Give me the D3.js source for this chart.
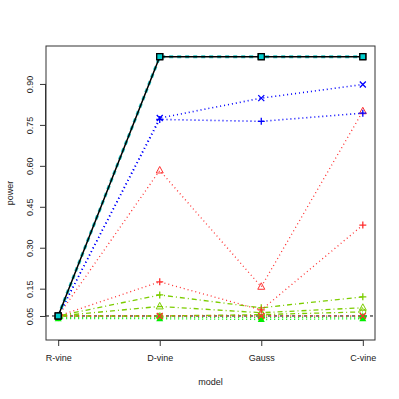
<!DOCTYPE html>
<html>
<head>
<meta charset="utf-8">
<script src="https://cdn.jsdelivr.net/npm/d3@7"></script>
<style>
  body { margin: 0; background: #fff; }
  text { font-family: "Liberation Sans", Arial, sans-serif; }
</style>
</head>
<body>
<div id="chart"></div>
<script>
const models = ["R-vine", "D-vine", "Gauss", "C-vine"];
const yTicks = [0.05, 0.15, 0.30, 0.45, 0.60, 0.75, 0.90];

// one entry per curve: values at each model
const blackSquare = [0.05, 1.0, 1.0, 1.0];
const cyanSquare = [0.05, 1.0, 1.0, 1.0];
const blueCross = [0.05, 0.775, 0.848, 0.898];
const bluePlus = [0.05, 0.77, 0.763, 0.793];
const redTriangle = [0.05, 0.583, 0.157, 0.80];
const redPlus = [0.05, 0.175, 0.072, 0.383];
const redFlat = [0.05, 0.05, 0.05, 0.05];
const olivePlus = [0.05, 0.127, 0.08, 0.12];
const oliveTriangle = [0.05, 0.085, 0.062, 0.08];
const oliveCircle = [0.05, 0.05, 0.055, 0.065];
const greenTop = [0.045, 0.046, 0.044, 0.046];
const greenLow = [0.04, 0.04, 0.037, 0.04];

const series = [
  { v: greenLow, color: "#00ee00", dash: "1,3", w: 1.3, shape: "tri" },
  { v: greenTop, color: "#00ee00", dash: "1,3", w: 1.3, shape: "diamond" },
  { v: oliveCircle, color: "#7ccd00", dash: "1,3,5,3", w: 1.3, shape: "circle" },
  { v: oliveTriangle, color: "#7ccd00", dash: "1,3,5,3", w: 1.3, shape: "triOpen" },
  { v: olivePlus, color: "#7ccd00", dash: "1,3,5,3", w: 1.3, shape: "plus" },
  { v: redFlat, color: "#ff3030", dash: "1,3", w: 1.3, shape: "cross" },
  { v: redPlus, color: "#ff3030", dash: "1,3", w: 1.3, shape: "plus" },
  { v: redTriangle, color: "#ff3030", dash: "1,3", w: 1.3, shape: "triOpen" },
  { v: bluePlus, color: "#0000ff", dash: "1,3", w: 1.6, shape: "plus" },
  { v: blueCross, color: "#0000ff", dash: "1,3", w: 1.6, shape: "cross" },
  { v: cyanSquare, color: "#20c5c5", dash: "4,4", w: 3, shape: "square" },
  { v: blackSquare, color: "#000000", dash: null, w: 1.5, shape: "square" }
];

const W = 399, H = 399;
const plotL = 46, plotR = 375, plotT = 46, plotB = 340;

const svg = d3.select("#chart").append("svg")
  .attr("width", W).attr("height", H);

const x = d3.scaleLinear().domain([0.88, 4.12]).range([plotL, plotR]);
const y = d3.scaleLinear().domain([-0.038, 1.039]).range([plotB, plotT]);

// reference line
svg.append("line")
  .attr("x1", plotL).attr("x2", plotR)
  .attr("y1", y(0.05)).attr("y2", y(0.05))
  .attr("stroke", "#000").attr("stroke-dasharray", "3,3").attr("stroke-width", 1);

const line = d3.line().x((d, i) => x(i + 1)).y(d => y(d));

series.forEach(s => {
  svg.append("path")
    .attr("d", line(s.v))
    .attr("fill", "none")
    .attr("stroke", s.color)
    .attr("stroke-width", s.w)
    .attr("stroke-dasharray", s.dash);

  s.v.forEach((d, i) => {
    const cx = x(i + 1), cy = y(d), r = 3.5;
    const g = svg.append("g").attr("transform", `translate(${cx},${cy})`);
    if (s.shape === "square") {
      g.append("rect").attr("x", -3).attr("y", -3).attr("width", 6).attr("height", 6)
        .attr("fill", "#00cdcd").attr("stroke", "#000").attr("stroke-width", 1.3);
    } else if (s.shape === "plus") {
      g.append("path").attr("d", `M${-r},0H${r}M0,${-r}V${r}`)
        .attr("stroke", s.color).attr("stroke-width", 1.3);
    } else if (s.shape === "cross") {
      g.append("path").attr("d", `M${-3},${-3}L3,3M3,${-3}L${-3},3`)
        .attr("stroke", s.color).attr("stroke-width", 1.3);
    } else if (s.shape === "triOpen") {
      g.append("path").attr("d", "M0,-4L3.5,2.5L-3.5,2.5Z")
        .attr("fill", "none").attr("stroke", s.color).attr("stroke-width", 1);
    } else if (s.shape === "tri") {
      g.append("path").attr("d", "M0,-4L3.5,2.5L-3.5,2.5Z")
        .attr("fill", s.color);
    } else if (s.shape === "diamond") {
      g.append("path").attr("d", "M0,-4L4,0L0,4L-4,0Z").attr("fill", s.color);
    } else if (s.shape === "circle") {
      g.append("circle").attr("r", 3).attr("fill", "none")
        .attr("stroke", s.color).attr("stroke-width", 1);
    }
  });
});

// box
svg.append("rect")
  .attr("x", plotL).attr("y", plotT)
  .attr("width", plotR - plotL).attr("height", plotB - plotT)
  .attr("fill", "none").attr("stroke", "#333").attr("stroke-width", 1);

// x axis
const xAxis = svg.append("g").attr("transform", `translate(0,${plotB})`)
  .call(d3.axisBottom(x).tickValues([1, 2, 3, 4]).tickFormat((d, i) => models[i])
    .tickSize(6).tickSizeOuter(0).tickPadding(9));
xAxis.select(".domain").attr("d", `M${x(1)},0.5H${x(4)}`).attr("stroke", "#333");
xAxis.selectAll(".tick line").attr("stroke", "#333");
xAxis.selectAll("text").attr("font-size", 9).attr("fill", "#222")
  .attr("font-family", "Liberation Sans, Arial, sans-serif");

// y axis
const yAxis = svg.append("g").attr("transform", `translate(${plotL},0)`)
  .call(d3.axisLeft(y).tickValues(yTicks).tickFormat(d3.format(".2f"))
    .tickSize(6).tickSizeOuter(0));
yAxis.select(".domain").attr("d", `M-0.5,${y(0.05)}V${y(0.90)}`).attr("stroke", "#333");
yAxis.selectAll(".tick line").attr("stroke", "#333");
yAxis.selectAll("text")
  .attr("font-size", 9).attr("fill", "#222")
  .attr("font-family", "Liberation Sans, Arial, sans-serif")
  .attr("x", null).attr("dy", null)
  .attr("text-anchor", "middle")
  .attr("transform", "translate(-13,0) rotate(-90)");

svg.append("text")
  .attr("x", (plotL + plotR) / 2).attr("y", 385)
  .attr("text-anchor", "middle").attr("font-size", 9).attr("fill", "#222")
  .text("model");

svg.append("text")
  .attr("transform", `translate(13,${(plotT + plotB) / 2}) rotate(-90)`)
  .attr("text-anchor", "middle").attr("font-size", 9).attr("fill", "#222")
  .text("power");
</script>
</body>
</html>
